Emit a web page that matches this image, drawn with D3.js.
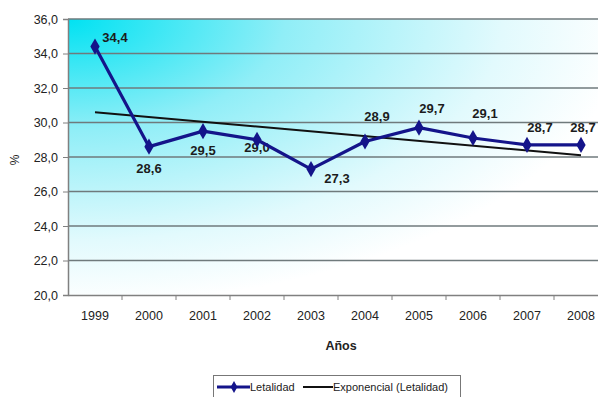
<!DOCTYPE html>
<html>
<head>
<meta charset="utf-8">
<script src="https://cdn.jsdelivr.net/npm/d3@7"></script>
<style>
  body { margin: 0; background: #fff; }
  svg { display: block; font-family: "Liberation Sans", Arial, sans-serif; }
</style>
</head>
<body>
<svg id="chart" width="598" height="397"></svg>
<script>
// values
const years = ["1999", "2000", "2001", "2002", "2003", "2004", "2005", "2006", "2007", "2008"];
const letalidad = [34.4, 28.6, 29.5, 29.0, 27.3, 28.9, 29.7, 29.1, 28.7, 28.7];
const trendEnds = [30.6, 28.1];   // exponential fit at 1999 and 2008
const yTicks = [20, 22, 24, 26, 28, 30, 32, 34, 36];

// where each value label sits relative to its point
const labelOffset = [
    [20, -5], [0, 26], [0, 24], [0, 12], [26, 14],
    [12, -20], [13, -15], [12, -20], [13, -13], [2, -13]
];

const margin = { top: 19, left: 68 };
const width = 540, height = 276;
const fmt = v => d3.format(".1f")(v).replace(".", ",");

const svg = d3.select("#chart");

const defs = svg.append("defs");
const grad = defs.append("radialGradient")
    .attr("id", "bg")
    .attr("cx", 0).attr("cy", 0).attr("r", 1.15)
    .attr("fx", 0).attr("fy", 0);
grad.append("stop").attr("offset", "0%").attr("stop-color", "#00e2f2");
grad.append("stop").attr("offset", "35%").attr("stop-color", "#90eef7");
grad.append("stop").attr("offset", "70%").attr("stop-color", "#e2fafd");
grad.append("stop").attr("offset", "90%").attr("stop-color", "#ffffff");

const g = svg.append("g").attr("transform", `translate(${margin.left},${margin.top})`);

const x = d3.scaleBand().domain(years).range([0, width]);
const y = d3.scaleLinear().domain([20, 36]).range([height, 0]);

g.append("rect")
    .attr("width", width).attr("height", height)
    .attr("fill", "url(#bg)");

g.selectAll(".grid")
    .data(yTicks.slice(1))
    .join("line")
    .attr("class", "grid")
    .attr("x1", 0).attr("x2", width)
    .attr("y1", d => y(d)).attr("y2", d => y(d))
    .attr("stroke", "#6f7a7c").attr("stroke-width", 1.4);

// y axis
const yAxis = g.append("g")
    .call(d3.axisLeft(y).tickValues(yTicks).tickFormat(fmt).tickSize(5).tickPadding(5));
yAxis.select(".domain").attr("stroke", "#808080").attr("stroke-width", 1.5);
yAxis.selectAll(".tick line").attr("stroke", "#808080");
yAxis.selectAll("text").attr("font-size", 12.5).attr("fill", "#222")
    .attr("font-family", "Liberation Sans, Arial, sans-serif");

// x axis, tick marks between categories
const xAxis = g.append("g").attr("transform", `translate(0,${height})`)
    .call(d3.axisBottom(x).tickSize(0).tickPadding(16));
xAxis.select(".domain").attr("stroke", "#808080").attr("stroke-width", 1.5);
xAxis.selectAll("text").attr("font-size", 12.5).attr("fill", "#222")
    .attr("font-family", "Liberation Sans, Arial, sans-serif");
xAxis.selectAll(".sep")
    .data(years.slice(1))
    .join("line")
    .attr("class", "sep")
    .attr("x1", d => x(d)).attr("x2", d => x(d))
    .attr("y1", 0).attr("y2", 5)
    .attr("stroke", "#808080");

const cx = d => x(d) + x.bandwidth() / 2;

// trend line
g.append("line")
    .attr("x1", cx(years[0])).attr("y1", y(trendEnds[0]))
    .attr("x2", cx(years[years.length - 1])).attr("y2", y(trendEnds[1]))
    .attr("stroke", "#111").attr("stroke-width", 2);

// value labels (under the line, as in the picture)
g.selectAll(".lbl")
    .data(letalidad)
    .join("text")
    .attr("class", "lbl")
    .attr("x", (d, i) => cx(years[i]) + labelOffset[i][0])
    .attr("y", (d, i) => y(d) + labelOffset[i][1])
    .attr("text-anchor", "middle")
    .attr("font-size", 13).attr("font-weight", "bold").attr("fill", "#1c1c1c")
    .text(fmt);

// data line
const line = d3.line().x((d, i) => cx(years[i])).y(d => y(d));
g.append("path")
    .datum(letalidad)
    .attr("d", line)
    .attr("fill", "none")
    .attr("stroke", "#14148a").attr("stroke-width", 3.2)
    .attr("stroke-linejoin", "round");

const diamond = d3.symbol().type(d3.symbolDiamond).size(75);
g.selectAll(".pt")
    .data(letalidad)
    .join("path")
    .attr("class", "pt")
    .attr("d", diamond)
    .attr("transform", (d, i) => `translate(${cx(years[i])},${y(d)})`)
    .attr("fill", "#14148a");

// axis titles
svg.append("text")
    .attr("transform", "translate(19,160) rotate(-90)")
    .attr("text-anchor", "middle")
    .attr("font-size", 12).attr("fill", "#222")
    .text("%");

svg.append("text")
    .attr("x", 341).attr("y", 350)
    .attr("text-anchor", "middle")
    .attr("font-size", 12.5).attr("font-weight", "bold").attr("fill", "#222")
    .text("Años");

// legend
const legend = svg.append("g").attr("transform", "translate(213,375)");
legend.append("rect")
    .attr("x", 0.5).attr("y", 0.5).attr("width", 247).attr("height", 24)
    .attr("fill", "#fff").attr("stroke", "#777");
legend.append("line")
    .attr("x1", 4).attr("x2", 37).attr("y1", 12).attr("y2", 12)
    .attr("stroke", "#14148a").attr("stroke-width", 3);
legend.append("path")
    .attr("d", d3.symbol().type(d3.symbolDiamond).size(40))
    .attr("transform", "translate(21,12)")
    .attr("fill", "#14148a");
legend.append("text")
    .attr("x", 37).attr("y", 16)
    .attr("font-size", 11).attr("fill", "#222")
    .text("Letalidad");
legend.append("line")
    .attr("x1", 90).attr("x2", 120).attr("y1", 12).attr("y2", 12)
    .attr("stroke", "#111").attr("stroke-width", 2);
legend.append("text")
    .attr("x", 120).attr("y", 16)
    .attr("font-size", 11).attr("fill", "#222")
    .text("Exponencial (Letalidad)");
</script>
</body>
</html>
